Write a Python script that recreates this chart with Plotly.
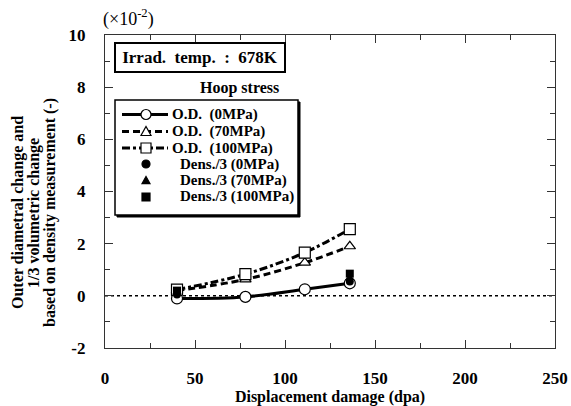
import plotly.graph_objects as go

# Data
od_x = [40, 78, 111, 136]
od_0 = [-0.1, -0.04, 0.25, 0.48]
od_70 = [0.2, 0.63, 1.27, 1.9]
od_100 = [0.24, 0.83, 1.66, 2.56]
dens_x = [40, 136]
dens_0 = [0.05, 0.55]
dens_70 = [0.15, 0.68]
dens_100 = [0.2, 0.85]

x_ticks = [0, 50, 100, 150, 200, 250]
y_ticks = [-2, 0, 2, 4, 6, 8, 10]

legend_names = ["O.D.  (0MPa)", "O.D.  (70MPa)", "O.D.  (100MPa)",
                "Dens./3 (0MPa)", "Dens./3 (70MPa)", "Dens./3 (100MPa)"]

FONT = "'Liberation Serif', 'Times New Roman', serif"
W, H = 571, 406
ML, MR, MT, MB = 105, 16, 35, 58
PW, PH = W - ML - MR, H - MT - MB


def px2x(px):
    return (px - ML) / PW


def px2y(py):
    return 1 - (py - MT) / PH


fig = go.Figure()
mk = dict(color="white", line=dict(color="black", width=1.2))
dashes = ["solid", "7px,4px", "8px,3px,3px,3px"]
od_series = [od_0, od_70, od_100]
open_syms = ["circle", "triangle-up", "square"]
open_sizes = [11, 10, 11]
for i in range(3):
    fig.add_trace(go.Scatter(x=od_x, y=od_series[i], mode="lines+markers", name=legend_names[i],
                             showlegend=False,
                             line=dict(color="black", width=3, dash=dashes[i], shape="spline"),
                             marker=dict(symbol=open_syms[i], size=open_sizes[i], **mk)))
dens_series = [dens_0, dens_70, dens_100]
for i in range(3):
    fig.add_trace(go.Scatter(x=dens_x, y=dens_series[i], mode="markers", name=legend_names[3 + i],
                             showlegend=False,
                             marker=dict(symbol=open_syms[i], size=8, color="black")))

axis_common = dict(showline=True, linecolor="#333", linewidth=1.2, mirror="ticks",
                   ticks="inside", tickcolor="#333", tickwidth=1.2, ticklen=8,
                   showgrid=False, zeroline=False, automargin=False,
                   tickfont=dict(family=FONT, size=17, color="black"),
                   minor=dict(ticks="inside", ticklen=5, tickwidth=1.2, tickcolor="#333", showgrid=False))

fig.update_xaxes(range=[0, 250], tickvals=x_ticks, ticktext=[f"<b>{v}</b>" for v in x_ticks],
                 minor_dtick=25, ticklabelstandoff=14,
                 title=dict(text="<b>Displacement damage (dpa)</b>", font=dict(family=FONT, size=16, color="black"),
                            standoff=6),
                 **axis_common)
fig.update_yaxes(range=[-2, 10], tickvals=y_ticks, ticktext=[f"<b>{v}</b>" for v in y_ticks],
                 minor_dtick=1, ticklabelstandoff=15, **axis_common)

shapes = []
annotations = []
# zero reference line
shapes.append(dict(type="line", xref="paper", x0=0, x1=1, yref="y", y0=0, y1=0,
                   line=dict(color="black", width=1.5, dash="dot"), layer="below"))

# manual legend box with shadow
bx0, bx1, by0, by1 = 115, 298, 100, 215
shapes.append(dict(type="rect", xref="paper", yref="paper",
                   x0=px2x(bx0 + 2), x1=px2x(bx1 + 2), y0=px2y(by1 + 2), y1=px2y(by0 + 2),
                   line=dict(color="black", width=1), fillcolor="black", layer="above"))
shapes.append(dict(type="rect", xref="paper", yref="paper",
                   x0=px2x(bx0), x1=px2x(bx1), y0=px2y(by1), y1=px2y(by0),
                   line=dict(color="black", width=1.5), fillcolor="white", layer="above"))

rows = [114.5, 131.5, 148, 164, 180.5, 197]
sx0, sx1, sxc = 122, 168, 146


def marker_shape(kind, cx, cy, r, filled):
    base = dict(xref="paper", yref="paper", xsizemode="pixel", ysizemode="pixel",
                xanchor=px2x(cx), yanchor=px2y(cy), layer="above",
                line=dict(color="black", width=1.2),
                fillcolor="black" if filled else "white")
    if kind == "circle":
        base.update(type="circle", x0=-r, x1=r, y0=-r, y1=r)
    elif kind == "square":
        base.update(type="rect", x0=-r, x1=r, y0=-r, y1=r)
    else:
        base.update(type="path", path=f"M {-r},{-0.8 * r} L {r},{-0.8 * r} L 0,{r} Z")
    return base


for i in range(3):
    shapes.append(dict(type="line", xref="paper", yref="paper", x0=px2x(sx0), x1=px2x(sx1),
                       y0=px2y(rows[i]), y1=px2y(rows[i]), layer="above",
                       line=dict(color="black", width=3, dash=dashes[i])))
    shapes.append(marker_shape(open_syms[i], sxc, rows[i], 5, False))
    annotations.append(dict(text=f"<b>{legend_names[i]}</b>", xref="paper", yref="paper",
                            x=px2x(170), y=px2y(rows[i]), xanchor="left", yanchor="middle",
                            showarrow=False, font=dict(family=FONT, size=15, color="black")))
for i in range(3):
    shapes.append(marker_shape(open_syms[i], sxc, rows[3 + i], 4, True))
    annotations.append(dict(text=f"<b>{legend_names[3 + i]}</b>", xref="paper", yref="paper",
                            x=px2x(178), y=px2y(rows[3 + i]), xanchor="left", yanchor="middle",
                            showarrow=False, font=dict(family=FONT, size=15, color="black")))

annotations += [
    dict(text="<b>Irrad.  temp.  :  678K</b>", xref="paper", yref="paper", x=px2x(200), y=px2y(57),
         xanchor="center", yanchor="middle",
         showarrow=False, font=dict(family=FONT, size=17, color="black"),
         bordercolor="black", borderwidth=2, borderpad=4, bgcolor="white", width=160),
    dict(text="<b>Hoop stress</b>", xref="paper", yref="paper", x=px2x(239), y=px2y(88),
         xanchor="center", yanchor="middle",
         showarrow=False, font=dict(family=FONT, size=16, color="black")),
    dict(text="(×10<sup>-2</sup>)", xref="paper", yref="paper", x=px2x(101), y=px2y(18),
         xanchor="left", yanchor="middle", showarrow=False,
         font=dict(family=FONT, size=18, color="black")),
]
ytitle = ["Outer diametral change and", "1/3 volumetric change", "based on density measurement (-)"]
for line, xp in zip(ytitle, [18, 34, 50]):
    annotations.append(dict(text=f"<b>{line}</b>", xref="paper", yref="paper", x=px2x(xp), y=px2y(213),
                            xanchor="center", yanchor="middle", textangle=-90, showarrow=False,
                            font=dict(family=FONT, size=16, color="black")))

fig.update_layout(
    width=W, height=H,
    margin=dict(l=ML, r=MR, t=MT, b=MB),
    paper_bgcolor="white", plot_bgcolor="white",
    font=dict(family=FONT, color="black"),
    showlegend=False,
    shapes=shapes,
    annotations=annotations,
)

fig.write_html("out.html")
